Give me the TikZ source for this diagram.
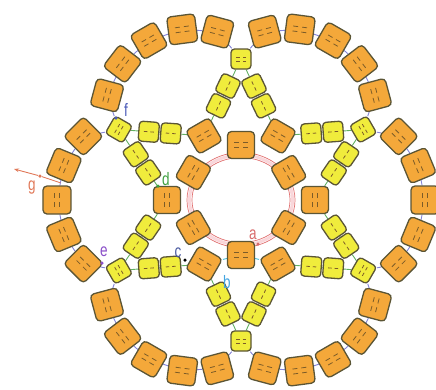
\documentclass[tikz,border=0pt]{standalone}
\usepackage{fontspec}
\setmainfont{Liberation Sans}
\usepackage{xcolor}
\usepackage{tikz}
\usetikzlibrary{arrows.meta, calc, backgrounds}
\definecolor{tile}{HTML}{F4A83A}
\definecolor{seed}{HTML}{F0EC3C}
\definecolor{beadedge}{HTML}{5B5535}
\definecolor{hole}{HTML}{7C5C28}
\definecolor{threadblue}{HTML}{8383D6}
\definecolor{threadgreen}{HTML}{62B062}
\definecolor{threadcyan}{HTML}{4CC0D8}
\definecolor{ringred}{HTML}{E07070}
\definecolor{ringpink}{HTML}{F9D6DA}
\definecolor{taga}{HTML}{D86A6A}
\definecolor{tagb}{HTML}{45A5E0}
\definecolor{tagc}{HTML}{4A5AA0}
\definecolor{tagd}{HTML}{3FA040}
\definecolor{tage}{HTML}{8A4FC8}
\definecolor{tagf}{HTML}{4A5AB8}
\definecolor{tagg}{HTML}{E07858}
\tikzset{
  tilebead/.style={
    rectangle, rounded corners=4pt,
    minimum size=28pt, inner sep=0pt,
    draw=beadedge, line width=1.3pt, fill=tile,
  },
  corebead/.style={tilebead, minimum size=27pt},
  seedbead/.style={
    rectangle, rounded corners=3.5pt,
    minimum size=20pt, inner sep=0pt,
    draw=beadedge, line width=1.3pt, fill=seed,
  },
  holes/.style={draw=hole, line width=0.8pt},
  outerthread/.style={draw=threadblue, line width=0.9pt},
  innerthread/.style={draw=threadgreen, line width=0.9pt},
  cyanthread/.style={draw=threadcyan, line width=0.9pt},
  gthread/.style={draw=tagg, line width=0.9pt},
  tag/.style={font=\fontsize{18}{18}\selectfont, inner sep=0pt, xscale=0.75},
  knot/.style={circle, inner sep=0pt, minimum size=3.5pt},
}

\begin{document}
\begin{tikzpicture}[x=1pt, y=1pt]

  \useasboundingbox (-241,-189) rectangle (195,200);

  \draw[ringpink, line width=3pt] (0,0) ellipse [x radius=51.5, y radius=45];
  \draw[ringred, line width=0.7pt] (0,0) ellipse [x radius=54, y radius=47.5];
  \draw[ringred, line width=0.7pt] (0,0) ellipse [x radius=49, y radius=42.5];

  \foreach \k in {0,...,5} {
    \node[corebead, rotate=60*\k] (v\k) at (60*\k:74) {};
    \node[corebead, rotate=60*\k+30] (m\k) at (60*\k+30:55) {};
    \node[seedbead, rotate=60*\k+30] (s\k) at (60*\k+30:141) {};
    \foreach \j in {0,...,4}
      \node[tilebead, rotate=60*\k+22.5*\j-45] (p\k-\j) at ($(60*\k:94)+(60*\k+22.5*\j-45:90)$) {};
  }

  \foreach \k in {0,...,5} {
    \pgfmathtruncatemacro\n{mod(\k+1,6)}
    \node[seedbead, rotate=60*\k+4.31] (y\k-1) at ($(s\k)!30pt!(v\n)$) {};
    \node[seedbead, rotate=60*\k+4.31] (y\k-2) at ($(s\k)!52pt!(v\n)$) {};
    \node[seedbead, rotate=60*\k+55.69] (y\k-3) at ($(s\k)!30pt!(v\k)$) {};
    \node[seedbead, rotate=60*\k+55.69] (y\k-4) at ($(s\k)!52pt!(v\k)$) {};
    \foreach \i in {1,2}
      \draw[holes, shift={(y\k-\i.center)}, rotate=60*\k+4.31] (-5,0) -- (-1.5,0) (1.5,0) -- (5,0);
    \foreach \i in {3,4}
      \draw[holes, shift={(y\k-\i.center)}, rotate=60*\k+55.69] (-5,0) -- (-1.5,0) (1.5,0) -- (5,0);
    \draw[holes, shift={(s\k.center)}, rotate=60*\k+30]
      (-2,-5) -- (-2,-1.5) (-2,1.5) -- (-2,5) (2,-5) -- (2,-1.5) (2,1.5) -- (2,5);
    \draw[holes, shift={(v\k.center)}, rotate=60*\k]
      (-2.5,-7) -- (-2.5,-2) (-2.5,2) -- (-2.5,7) (2.5,-7) -- (2.5,-2) (2.5,2) -- (2.5,7);
    \draw[holes, shift={(m\k.center)}, rotate=60*\k+30]
      (-2.5,-7) -- (-2.5,-2) (-2.5,2) -- (-2.5,7) (2.5,-7) -- (2.5,-2) (2.5,2) -- (2.5,7);
    \foreach \j in {0,...,4}
      \draw[holes, shift={(p\k-\j.center)}, rotate=60*\k+22.5*\j-45]
        (-2.5,-7) -- (-2.5,-2) (-2.5,2) -- (-2.5,7) (2.5,-7) -- (2.5,-2) (2.5,2) -- (2.5,7);
  }

  \begin{scope}[on background layer]
    \foreach \k in {0,...,5} {
      \pgfmathtruncatemacro\n{mod(\k+5,6)}
      \pgfmathtruncatemacro\m{mod(\k+1,6)}
      \draw[outerthread] (s\n) -- (p\k-0) -- (p\k-1) -- (p\k-2) -- (p\k-3) -- (p\k-4) -- (s\k);
      \draw[innerthread] (s\k) -- (y\k-1) -- (y\k-2) -- (v\m);
      \draw[innerthread] (s\k) -- (y\k-3) -- (y\k-4) -- (v\k);
    }
    \draw[cyanthread] (v4) -- (m4) -- (v5);
  \end{scope}

  \node[tag, text=taga] (la) at (12,-35) {a};
  \node[knot, fill=taga] (ka) at (17,-44) {};
  \node[tag, text=tagb] (lb) at (-14,-82) {b};
  \node[tag, text=tagc] (lc) at (-63,-53) {c};
  \node[knot, fill=black] (kc) at (-56,-60) {};
  \node[tag, text=tagd] (ld) at (-75,21) {d};
  \node[knot, fill=tagd] (kd) at (-83,14) {};
  \node[tag, text=tage] (le) at (-137,-52) {e};
  \node[knot, fill=tage] (ke) at (-139,-63) {};
  \node[tag, text=tagf] (lf) at (-115,90) {f};
  \node[knot, fill=tagf] (kf) at (-125,82) {};
  \node[tag, text=tagg] (lg) at (-209,12) {g};
  \node[knot, fill=tagg] (kg) at (-201,24) {};
  \coordinate (gstart) at ($(p3-1)!0.5!(p3-2)$);
  \coordinate (gend) at (-227,31);
  \draw[gthread] (gstart) -- (kg);
  \draw[gthread, -{Stealth[length=5pt]}] (kg) -- (gend);

\end{tikzpicture}
\end{document}
